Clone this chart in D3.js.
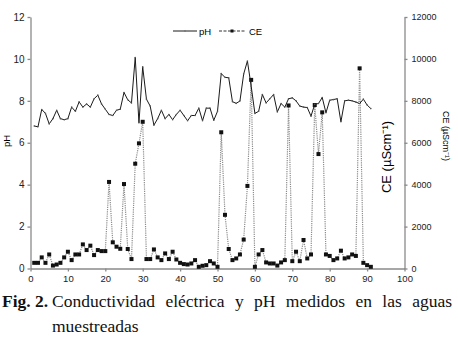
<!DOCTYPE html>
<html>
<head>
<meta charset="utf-8">
<script src="https://cdn.jsdelivr.net/npm/d3@7"></script>
<style>
  body { margin: 0; background: #fff; }
  svg { display: block; }
  .axis path, .axis line { stroke: #8a8a8a; stroke-width: 1.3; }
  .axis text { font-family: "Liberation Sans", Arial, sans-serif; fill: #222; }
</style>
</head>
<body>
<div id="chart"></div>
<script>
// sample number (x), pH (left axis) and CE in µS/cm (right axis)
var sample = d3.range(1, 92);

var ph = [6.8, 6.76, 7.59, 7.4, 6.9, 7.15, 7.55, 7.15, 7.1, 7.15,
  7.7, 7.5, 7.95, 7.7, 7.85, 7.7, 8.1, 8.27, 7.85, 7.6,
  7.35, 7.3, 7.55, 7.6, 8.4, 8.05, 7.9, 10.07, 6.95, 9.62,
  8.08, 7.75, 6.84, 7.15, 7.55, 7.15, 7.35, 7.1, 7.35, 7.55,
  7.3, 7.05, 7.3, 7.3, 7.65, 7.05, 7.65, 7.65, 7.07, 7.5,
  9.3, 9.12, 9.1, 7.96, 7.88, 7.99, 9.28, 9.9, 8.7, 7.4,
  7.5, 8.3, 7.9, 8.1, 8.3, 7.47, 7.87, 7.7, 8.1, 8.14,
  8.0, 7.75, 7.7, 7.68, 7.27, 7.84, 7.87, 8.16, 7.43, 8.03,
  8.06, 8.1, 7.0, 8.0, 8.03, 8.0, 7.94, 7.87, 8.08, 7.8, 7.63];

var ce = [270, 270, 530, 270, 670, 140, 190, 270, 530, 800,
  400, 670, 670, 1150, 880, 1090, 640, 880, 830, 830,
  4130, 1250, 1040, 940, 4030, 930, 450, 5000, 5970, 7000,
  450, 450, 910, 530, 400, 720, 450, 800, 430, 270,
  210, 190, 240, 400, 80, 130, 160, 350, 240, 80,
  6500, 2560, 930, 400, 480, 670, 1380, 3940, 9000, 80,
  670, 880, 290, 240, 240, 140, 290, 400, 7780, 350,
  800, 350, 1360, 480, 670, 7800, 5460, 7450, 670, 600,
  400, 480, 850, 480, 530, 670, 600, 9550, 270, 160, 80];

var xTicks = [0, 10, 20, 30, 40, 50, 60, 70, 80, 90, 100];
var phTicks = [0, 2, 4, 6, 8, 10, 12];
var ceTicks = [0, 2000, 4000, 6000, 8000, 10000, 12000];

var svgWidth = 458;
var svgHeight = 337;

var svg = d3.select("#chart")
  .append("svg")
    .attr("width", svgWidth)
    .attr("height", svgHeight);

// scales
var x = d3.scaleLinear().domain([0, 100]).range([30.5, 404.5]);
var yPh = d3.scaleLinear().domain([0, 12]).range([268.5, 17]);
var yCe = d3.scaleLinear().domain([0, 12000]).range([268.5, 17]);

// axes
svg.append("g")
  .attr("class", "axis")
  .attr("transform", "translate(0," + yPh(0) + ")")
  .call(d3.axisBottom(x).tickValues(xTicks).tickSize(3).tickPadding(4).tickSizeOuter(0))
  .selectAll("text").style("font-size", "9.5px");

svg.append("g")
  .attr("class", "axis")
  .attr("transform", "translate(" + x(0) + ",0)")
  .call(d3.axisLeft(yPh).tickValues(phTicks).tickSize(3).tickPadding(3).tickSizeOuter(0))
  .selectAll("text").style("font-size", "10px");

svg.append("g")
  .attr("class", "axis")
  .attr("transform", "translate(" + x(100) + ",0)")
  .call(d3.axisRight(yCe).tickValues(ceTicks).tickFormat(d3.format("d"))
    .tickSize(3).tickPadding(4).tickSizeOuter(0))
  .selectAll("text").style("font-size", "9px");

// CE dotted line + square markers
var ceLine = d3.line()
  .x(function(d, i) { return x(sample[i]); })
  .y(function(d) { return yCe(d); });

svg.append("path")
  .datum(ce)
  .attr("d", ceLine)
  .attr("fill", "none")
  .attr("stroke", "#8c8c8c")
  .attr("stroke-width", 1.2)
  .attr("stroke-dasharray", "1.2,1");

svg.selectAll(".ceMark")
  .data(ce)
  .enter()
  .append("rect")
  .attr("class", "ceMark")
  .attr("x", function(d, i) { return x(sample[i]) - 2; })
  .attr("y", function(d) { return yCe(d) - 2; })
  .attr("width", 4)
  .attr("height", 4)
  .attr("fill", "#111");

// pH solid line + tiny dots
var phLine = d3.line()
  .x(function(d, i) { return x(sample[i]); })
  .y(function(d) { return yPh(d); });

svg.append("path")
  .datum(ph)
  .attr("d", phLine)
  .attr("fill", "none")
  .attr("stroke", "#1a1a1a")
  .attr("stroke-width", 1);

svg.selectAll(".phMark")
  .data(ph)
  .enter()
  .append("circle")
  .attr("class", "phMark")
  .attr("cx", function(d, i) { return x(sample[i]); })
  .attr("cy", function(d) { return yPh(d); })
  .attr("r", 0.8)
  .attr("fill", "#555");

// legend
var legend = svg.append("g")
  .style("font-family", "Liberation Sans, Arial, sans-serif")
  .style("font-size", "9.5px");

legend.append("line")
  .attr("x1", 173).attr("x2", 197).attr("y1", 31).attr("y2", 31)
  .attr("stroke", "#1a1a1a").attr("stroke-width", 1);
legend.append("circle").attr("cx", 185).attr("cy", 31).attr("r", 0.9).attr("fill", "#777");
legend.append("text").attr("x", 199).attr("y", 34.5).text("pH");

legend.append("line")
  .attr("x1", 219).attr("x2", 245).attr("y1", 31).attr("y2", 31)
  .attr("stroke", "#333").attr("stroke-width", 1)
  .attr("stroke-dasharray", "3,1.5");
legend.append("rect").attr("x", 230.5).attr("y", 29.5).attr("width", 3).attr("height", 3).attr("fill", "#111");
legend.append("text").attr("x", 249).attr("y", 34.5).text("CE");

// axis titles
svg.append("text")
  .attr("transform", "translate(10,141) rotate(-90)")
  .attr("text-anchor", "middle")
  .style("font-family", "Liberation Sans, Arial, sans-serif")
  .style("font-size", "9.5px")
  .text("pH");

svg.append("text")
  .attr("transform", "translate(391,157) rotate(-90)")
  .attr("text-anchor", "middle")
  .style("font-family", "Liberation Sans, Arial, sans-serif")
  .style("font-size", "13px")
  .text("CE (µScm⁻¹)");

svg.append("text")
  .attr("transform", "translate(443,136) rotate(90)")
  .attr("text-anchor", "middle")
  .style("font-family", "Liberation Sans, Arial, sans-serif")
  .style("font-size", "9px")
  .text("CE (µScm⁻¹)");

// caption
var caption = svg.append("g")
  .style("font-family", "Liberation Serif, 'Times New Roman', serif")
  .style("font-size", "17.5px")
  .attr("fill", "#111");

caption.append("text")
  .attr("x", 2).attr("y", 307)
  .style("font-weight", "bold")
  .text("Fig. 2.");

// justified first line: spread words between x=52 and x=452
var words = "Conductividad eléctrica y pH medidos en las aguas".split(" ");
var wordNodes = caption.selectAll(".w")
  .data(words)
  .enter()
  .append("text")
  .attr("class", "w")
  .attr("y", 307)
  .text(function(d) { return d; });
var widths = [];
wordNodes.each(function() { widths.push(this.getComputedTextLength()); });
var gap = (400 - d3.sum(widths)) / (words.length - 1);
var cx = 52;
wordNodes.attr("x", function(d, i) {
  var pos = cx;
  cx += widths[i] + gap;
  return pos;
});

caption.append("text")
  .attr("x", 52).attr("y", 332)
  .text("muestreadas");
</script>
</body>
</html>
